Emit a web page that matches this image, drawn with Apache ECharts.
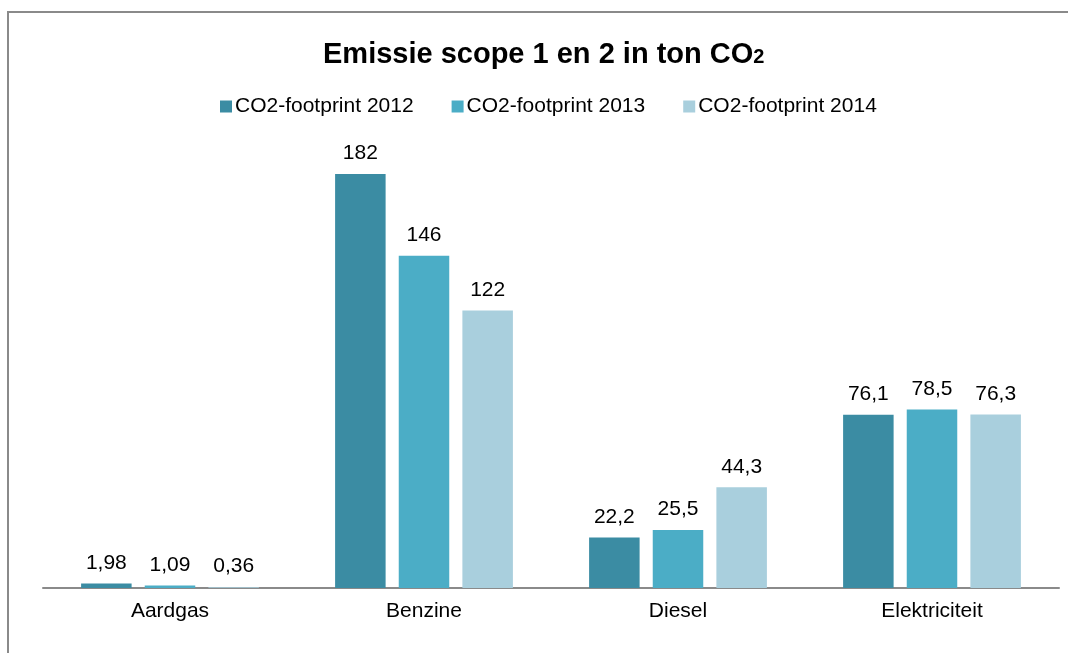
<!DOCTYPE html>
<html>
<head>
<meta charset="utf-8">
<script src="https://cdn.jsdelivr.net/npm/echarts@6/dist/echarts.min.js"></script>
<style>
html,body{margin:0;padding:0;background:#fff;}
#c{width:1068px;height:653px;}
</style>
</head>
<body>
<div id="c"></div>
<script>
var categories = ['Aardgas', 'Benzine', 'Diesel', 'Elektriciteit'];
var seriesNames = ['CO2-footprint 2012', 'CO2-footprint 2013', 'CO2-footprint 2014'];
var values2012 = [1.98, 182, 22.2, 76.1];
var values2013 = [1.09, 146, 25.5, 78.5];
var values2014 = [0.36, 122, 44.3, 76.3];
var colors = ['#3B8CA3', '#4BADC6', '#A9CFDD'];

var chart = echarts.init(document.getElementById('c'));
var font = 'Liberation Sans, Arial, sans-serif';
function mk(name, data, color) {
  return {
    name: name, type: 'bar', data: data,
    barCategoryGap: '30%', barGap: '26%',
    itemStyle: { color: color },
    label: {
      show: true, position: 'top', distance: 10,
      color: '#000', fontSize: 21, fontFamily: font,
      formatter: function (p) { return String(p.value).replace('.', ','); }
    }
  };
}
chart.setOption({
  animation: false,
  color: colors,
  graphic: [{
    type: 'rect', silent: true,
    shape: { x: 8, y: 12, width: 1200, height: 800 },
    style: { fill: 'none', stroke: '#8a8a8a', lineWidth: 2 }
  }],
  title: {
    text: '{a|Emissie scope 1 en 2 in ton CO}{b|2}',
    left: 318, top: 28,
    textStyle: {
      rich: {
        a: { fontSize: 29, fontWeight: 'bold', color: '#000', fontFamily: font, lineHeight: 36, verticalAlign: 'bottom' },
        b: { fontSize: 20, fontWeight: 'bold', color: '#000', fontFamily: font, lineHeight: 36, verticalAlign: 'bottom', padding: [0,0,2,0] }
      }
    }
  },
  legend: {
    data: seriesNames, top: 91, left: 215,
    icon: 'rect', itemWidth: 12, itemHeight: 12, itemGap: 38,
    textStyle: { fontSize: 21, color: '#000', fontFamily: font, padding: [0,0,0,-2] }
  },
  grid: { left: 43, right: 9, top: 133, bottom: 65 },
  xAxis: {
    type: 'category', data: categories,
    axisLine: { lineStyle: { color: '#8a8a8a', width: 2 } },
    axisTick: { show: false },
    axisLabel: { fontSize: 21, color: '#000', fontFamily: font, margin: 13 }
  },
  yAxis: {
    type: 'value', min: 0, max: 200, show: false,
    splitLine: { show: false }
  },
  series: [
    mk(seriesNames[0], values2012, colors[0]),
    mk(seriesNames[1], values2013, colors[1]),
    mk(seriesNames[2], values2014, colors[2])
  ]
});
</script>
</body>
</html>
